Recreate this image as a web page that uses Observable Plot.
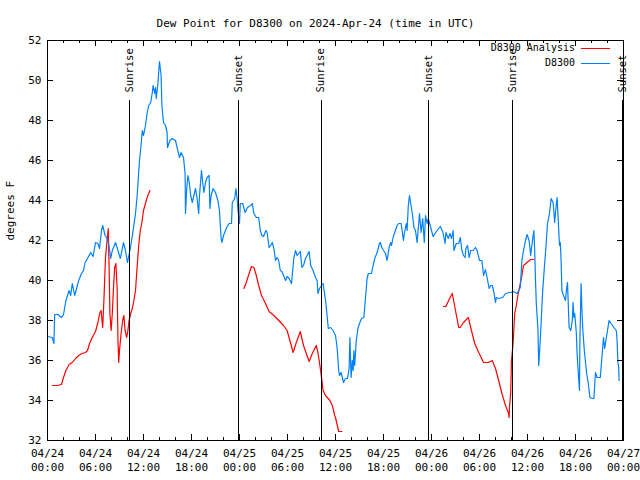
<!DOCTYPE html>
<html><head><meta charset="utf-8">
<script src="https://cdn.jsdelivr.net/npm/d3@7"></script>
<script src="https://cdn.jsdelivr.net/npm/@observablehq/plot@0.6"></script>
<style>body{margin:0;background:#fff}</style>
</head><body><div id="chart"></div>
<script>
const titleText = "Dew Point for D8300 on 2024-Apr-24 (time in UTC)";
const yLabelText = "degrees F";
const seriesNames = ["D8300 Analysis", "D8300"];
const seriesColors = ["#ff0000", "#0080ff"];

// hours since 2024-04-24 00:00 UTC
const blueHours = [0.0,0.6,0.8,0.9,1.3,1.75,2.0,2.3,2.7,2.9,3.1,3.4,3.7,3.9,4.25,4.5,4.7,5.0,5.4,5.7,6.0,6.3,6.5,6.75,6.9,7.2,7.45,7.7,7.9,8.1,8.5,8.8,9.1,9.5,9.75,10.0,10.4,10.7,11.0,11.2,11.5,11.75,11.85,12.0,12.25,12.45,12.65,12.9,13.1,13.2,13.4,13.5,13.6,13.8,13.9,14.0,14.2,14.3,14.5,14.75,14.95,15.0,15.3,15.6,16.0,16.2,16.5,16.7,17.0,17.2,17.25,17.4,17.55,17.7,17.9,18.1,18.3,18.5,18.7,18.9,19.0,19.25,19.4,19.55,19.75,19.95,20.2,20.3,20.45,20.7,21.0,21.3,21.5,21.7,21.8,22.0,22.4,22.7,23.0,23.1,23.4,23.55,23.7,23.8,23.9,24.0,24.1,24.4,24.7,25.0,25.4,25.6,25.8,26.1,26.4,26.6,26.8,27.0,27.3,27.45,27.7,27.9,28.1,28.3,28.5,28.7,28.9,29.1,29.3,29.5,29.75,29.95,30.2,30.5,30.8,31.0,31.2,31.4,31.6,31.8,32.0,32.25,32.45,32.7,32.9,33.2,33.5,33.7,33.8,34.0,34.25,34.45,34.7,34.8,34.95,35.1,35.4,35.7,36.0,36.2,36.4,36.5,36.7,36.8,37.0,37.25,37.5,37.7,37.8,37.95,38.1,38.2,38.3,38.4,38.6,38.8,39.0,39.25,39.55,39.75,39.95,40.1,40.5,40.7,40.9,41.2,41.5,41.6,41.8,42.0,42.25,42.45,42.7,42.9,43.0,43.2,43.4,43.7,43.9,44.2,44.5,44.6,44.85,44.95,45.1,45.25,45.4,45.6,45.8,46.0,46.2,46.4,46.5,46.7,46.9,47.1,47.25,47.45,47.6,47.9,48.2,48.7,49.1,49.4,49.7,49.8,50.1,50.3,50.5,50.7,50.8,51.1,51.4,51.6,51.8,52.0,52.2,52.3,52.5,52.7,52.9,53.2,53.5,53.7,54.0,54.3,54.5,54.75,54.95,55.2,55.4,55.6,55.8,56.0,56.1,56.4,56.9,57.25,57.7,58.0,58.2,58.7,59.1,59.3,59.5,59.75,59.95,60.2,60.4,60.5,60.7,60.8,60.9,61.0,61.1,61.3,61.4,61.5,61.7,61.9,62.1,62.3,62.5,62.75,62.95,63.2,63.4,63.5,63.7,63.8,64.0,64.1,64.2,64.3,64.5,64.75,64.9,65.0,65.2,65.4,65.6,65.7,65.8,65.9,66.1,66.2,66.35,66.5,66.55,66.7,66.8,66.9,67.1,67.4,67.6,67.8,68.1,68.3,68.4,68.5,68.7,69.1,69.3,69.5,69.65,69.8,70.0,70.2,70.45,70.8,71.1,71.2,71.3,71.4,71.45];
const blueValues = [37.2,37.15,36.85,38.3,38.3,38.15,38.3,39.0,39.5,39.25,39.85,39.25,39.7,40.0,40.35,40.5,40.9,41.1,41.4,41.2,41.9,41.85,41.6,42.5,42.75,42.25,42.1,41.7,41.1,41.5,41.9,41.5,41.1,41.9,41.5,40.9,41.7,42.5,43.35,44.2,46.0,47.0,47.5,47.25,47.75,48.35,48.75,48.9,49.4,49.75,49.35,49.65,49.1,49.85,50.4,50.95,50.25,48.75,47.9,47.75,47.4,46.65,47.0,47.1,47.0,46.65,46.15,46.4,46.15,45.35,43.35,44.6,45.25,44.95,44.25,43.9,44.25,44.6,44.1,43.35,44.25,45.5,44.9,44.4,44.9,45.15,45.25,43.6,44.25,44.6,44.4,44.0,43.5,42.1,41.9,42.25,42.65,42.85,42.85,43.9,44.1,44.6,44.1,43.6,43.15,42.85,43.85,43.85,43.4,43.65,43.75,43.85,43.35,43.15,43.15,42.5,42.25,42.2,42.5,42.4,41.65,41.75,41.9,41.6,41.0,41.15,41.0,40.5,40.45,40.25,40.0,40.2,40.1,39.85,41.15,41.5,41.25,41.35,41.45,40.65,40.75,41.1,41.25,41.45,40.75,40.5,40.15,40.0,39.35,39.6,39.75,39.85,39.15,38.85,38.25,37.6,37.65,37.5,37.25,36.65,35.5,35.25,35.4,35.25,34.9,35.1,35.1,35.6,37.15,35.15,36.0,35.5,36.5,35.75,37.0,37.6,37.85,38.1,38.15,39.15,40.1,40.35,40.35,40.75,41.1,41.4,41.85,41.9,41.65,41.5,41.35,41.0,41.65,41.9,41.75,42.15,42.4,42.75,42.85,42.85,42.0,42.35,42.85,42.5,43.75,44.25,43.85,43.35,42.65,42.5,41.9,42.85,43.35,42.4,43.1,41.9,43.25,42.85,43.1,42.65,42.2,42.5,42.7,42.45,41.85,42.4,42.1,42.35,42.1,42.5,41.5,41.85,41.85,42.15,41.5,41.25,41.15,41.6,41.75,41.15,41.5,41.5,41.65,41.5,41.0,41.0,40.25,40.55,40.15,39.6,39.75,39.75,39.4,38.9,39.15,39.1,39.15,39.35,39.4,39.4,39.45,39.35,39.65,41.0,41.5,42.0,42.3,42.0,41.25,41.6,42.25,42.5,41.5,40.0,38.85,37.6,35.75,36.35,37.85,39.5,40.6,41.65,42.85,43.35,44.1,43.9,42.9,43.4,44.15,43.35,41.75,41.9,41.0,39.5,39.25,39.0,39.65,39.9,37.65,37.5,38.0,38.9,38.15,38.35,37.4,36.35,35.35,34.5,37.0,39.85,38.55,37.65,36.5,35.35,34.85,34.15,34.1,34.1,34.75,35.4,35.15,35.15,36.15,37.15,36.6,37.0,37.5,38.0,37.85,37.65,37.5,37.0,35.9,35.65,35.0];

// null entries mark gaps in the analysis series
const redHours = [0.6,1.2,1.75,2.0,2.3,2.7,3.1,3.5,3.9,4.3,4.75,5.0,5.25,5.6,6.0,6.3,6.55,6.7,6.9,7.05,7.25,7.45,7.6,7.7,7.8,7.95,8.1,8.25,8.4,8.55,8.7,8.8,8.9,9.0,9.2,9.4,9.55,9.7,9.9,10.05,10.2,10.4,10.6,10.8,11.0,11.2,11.4,11.6,11.8,12.0,12.45,12.8,18.0,24.55,24.8,25.2,25.5,25.8,26.1,26.4,26.75,27.25,27.7,28.3,28.9,29.5,29.95,30.4,30.7,31.1,31.6,32.0,32.7,33.1,33.6,33.8,34.05,34.25,34.45,34.75,35.3,35.6,35.9,36.0,36.4,36.8,43.0,49.5,49.8,50.2,50.6,51.0,51.4,51.6,52.0,52.6,52.9,53.4,53.9,54.5,55.1,55.6,56.0,56.4,56.8,57.25,57.6,57.7,57.75,57.9,58.0,58.2,58.4,58.6,58.75,59.0,59.25,59.5,59.95,60.4,60.8];
const redValues = [34.75,34.75,34.8,35.15,35.5,35.8,35.9,36.1,36.25,36.35,36.4,36.5,36.85,37.15,37.45,37.9,38.4,38.5,37.65,39.0,41.15,42.0,42.6,40.65,38.35,37.5,38.35,39.65,40.65,40.85,39.65,37.15,35.9,36.5,37.35,38.0,38.25,37.5,37.15,37.5,38.0,38.35,38.6,39.0,39.5,40.65,41.75,42.5,42.9,43.5,44.15,44.5,null,39.6,39.85,40.35,40.7,40.65,40.25,39.75,39.25,38.85,38.45,38.25,38.0,37.75,37.5,36.85,36.4,36.9,37.45,36.75,35.95,36.35,36.75,36.4,35.75,35.15,34.5,34.25,34.0,33.75,33.25,33.15,32.45,32.45,null,38.7,38.7,39.05,39.35,38.5,37.65,37.65,37.9,38.15,37.65,36.85,36.4,35.9,35.9,36.0,35.6,35.0,34.35,33.75,33.4,33.15,33.65,34.4,36.0,36.85,38.35,38.75,39.15,39.65,40.15,40.75,40.9,41.05,41.05];

const eventHours = [10.27, 23.83, 34.2, 47.67, 58.15, 71.9];
const eventLabels = ["Sunrise", "Sunset", "Sunrise", "Sunset", "Sunrise", "Sunset"];

const xTickHours = [0, 6, 12, 18, 24, 30, 36, 42, 48, 54, 60, 66, 72];
const xTickLabels = ["04/24\n00:00","04/24\n06:00","04/24\n12:00","04/24\n18:00","04/25\n00:00","04/25\n06:00","04/25\n12:00","04/25\n18:00","04/26\n00:00","04/26\n06:00","04/26\n12:00","04/26\n18:00","04/27\n00:00"];
const yTicks = [32, 34, 36, 38, 40, 42, 44, 46, 48, 50, 52];

const W = 640, H = 480, mL = 47, mR = 17, mT = 40, mB = 40;
const frameW = W - mL - mR, frameH = H - mT - mB;
const minorHours = d3.range(0, 73, 2).filter(h => h % 6 !== 0);

const blue = blueHours.map((h, i) => ({h, v: blueValues[i]}));
const red = redHours.map((h, i) => ({h, v: redValues[i]}));
const font = "'DejaVu Sans Mono', 'Liberation Mono', monospace";

const legend = (index, scales, values, dims) => {
  const g = d3.create("svg:g").attr("font-family", font).attr("font-size", 10);
  const right = dims.width - dims.marginRight;
  seriesNames.forEach((name, i) => {
    const y = dims.marginTop + 8 + i * 15;
    g.append("text").attr("x", right - 48).attr("y", y).attr("dy", "0.32em")
      .attr("text-anchor", "end").attr("fill", "#000").text(name);
    g.append("line").attr("x1", right - 42).attr("x2", right - 13)
      .attr("y1", y + 0.5).attr("y2", y + 0.5).attr("stroke", seriesColors[i]);
  });
  return g.node();
};

const chart = Plot.plot({
  width: W, height: H,
  marginLeft: mL, marginRight: mR, marginTop: mT, marginBottom: mB,
  style: {fontFamily: font, fontSize: "11px", background: "#fff", color: "#000"},
  x: {type: "linear", domain: [0, 72]},
  y: {type: "linear", domain: [32, 52]},
  marks: [
    Plot.line(red, {x: "h", y: "v", stroke: seriesColors[0], strokeWidth: 1.2}),
    Plot.line(blue, {x: "h", y: "v", stroke: seriesColors[1], strokeWidth: 1.2}),
    Plot.ruleX(eventHours, {x: d => d, insetTop: 60, stroke: "#000", shapeRendering: "crispEdges"}),
    Plot.text(eventHours, {x: d => d, text: (d, i) => eventLabels[i], frameAnchor: "top", rotate: -90, textAnchor: "start", lineAnchor: "middle", dy: 52, fill: "#000", fontSize: 10.5}),
    Plot.tickX(xTickHours, {x: d => d, insetTop: frameH - 6, stroke: "#000", shapeRendering: "crispEdges"}),
    Plot.tickX(xTickHours, {x: d => d, insetBottom: frameH - 6, stroke: "#000", shapeRendering: "crispEdges"}),
    Plot.tickX(minorHours, {x: d => d, insetTop: frameH - 3, stroke: "#000", shapeRendering: "crispEdges"}),
    Plot.tickX(minorHours, {x: d => d, insetBottom: frameH - 3, stroke: "#000", shapeRendering: "crispEdges"}),
    Plot.tickY(yTicks, {y: d => d, insetRight: frameW - 6, stroke: "#000", shapeRendering: "crispEdges"}),
    Plot.tickY(yTicks, {y: d => d, insetLeft: frameW - 6, stroke: "#000", shapeRendering: "crispEdges"}),
    Plot.axisX(xTickHours, {tickSize: 0, tickPadding: 7, lineHeight: 1.27, label: null,
      tickFormat: d => xTickLabels[xTickHours.indexOf(d)]}),
    Plot.axisY(yTicks, {tickSize: 0, tickPadding: 6, label: null}),
    Plot.text([yLabelText], {frameAnchor: "left", rotate: -90, dx: -37, fill: "#000"}),
    Plot.text([titleText], {frameAnchor: "top", dx: -20, dy: -21, fill: "#000"}),
    Plot.frame({stroke: "#000", shapeRendering: "crispEdges"}),
    legend
  ]
});
document.getElementById("chart").append(chart);
</script>
</body></html>
